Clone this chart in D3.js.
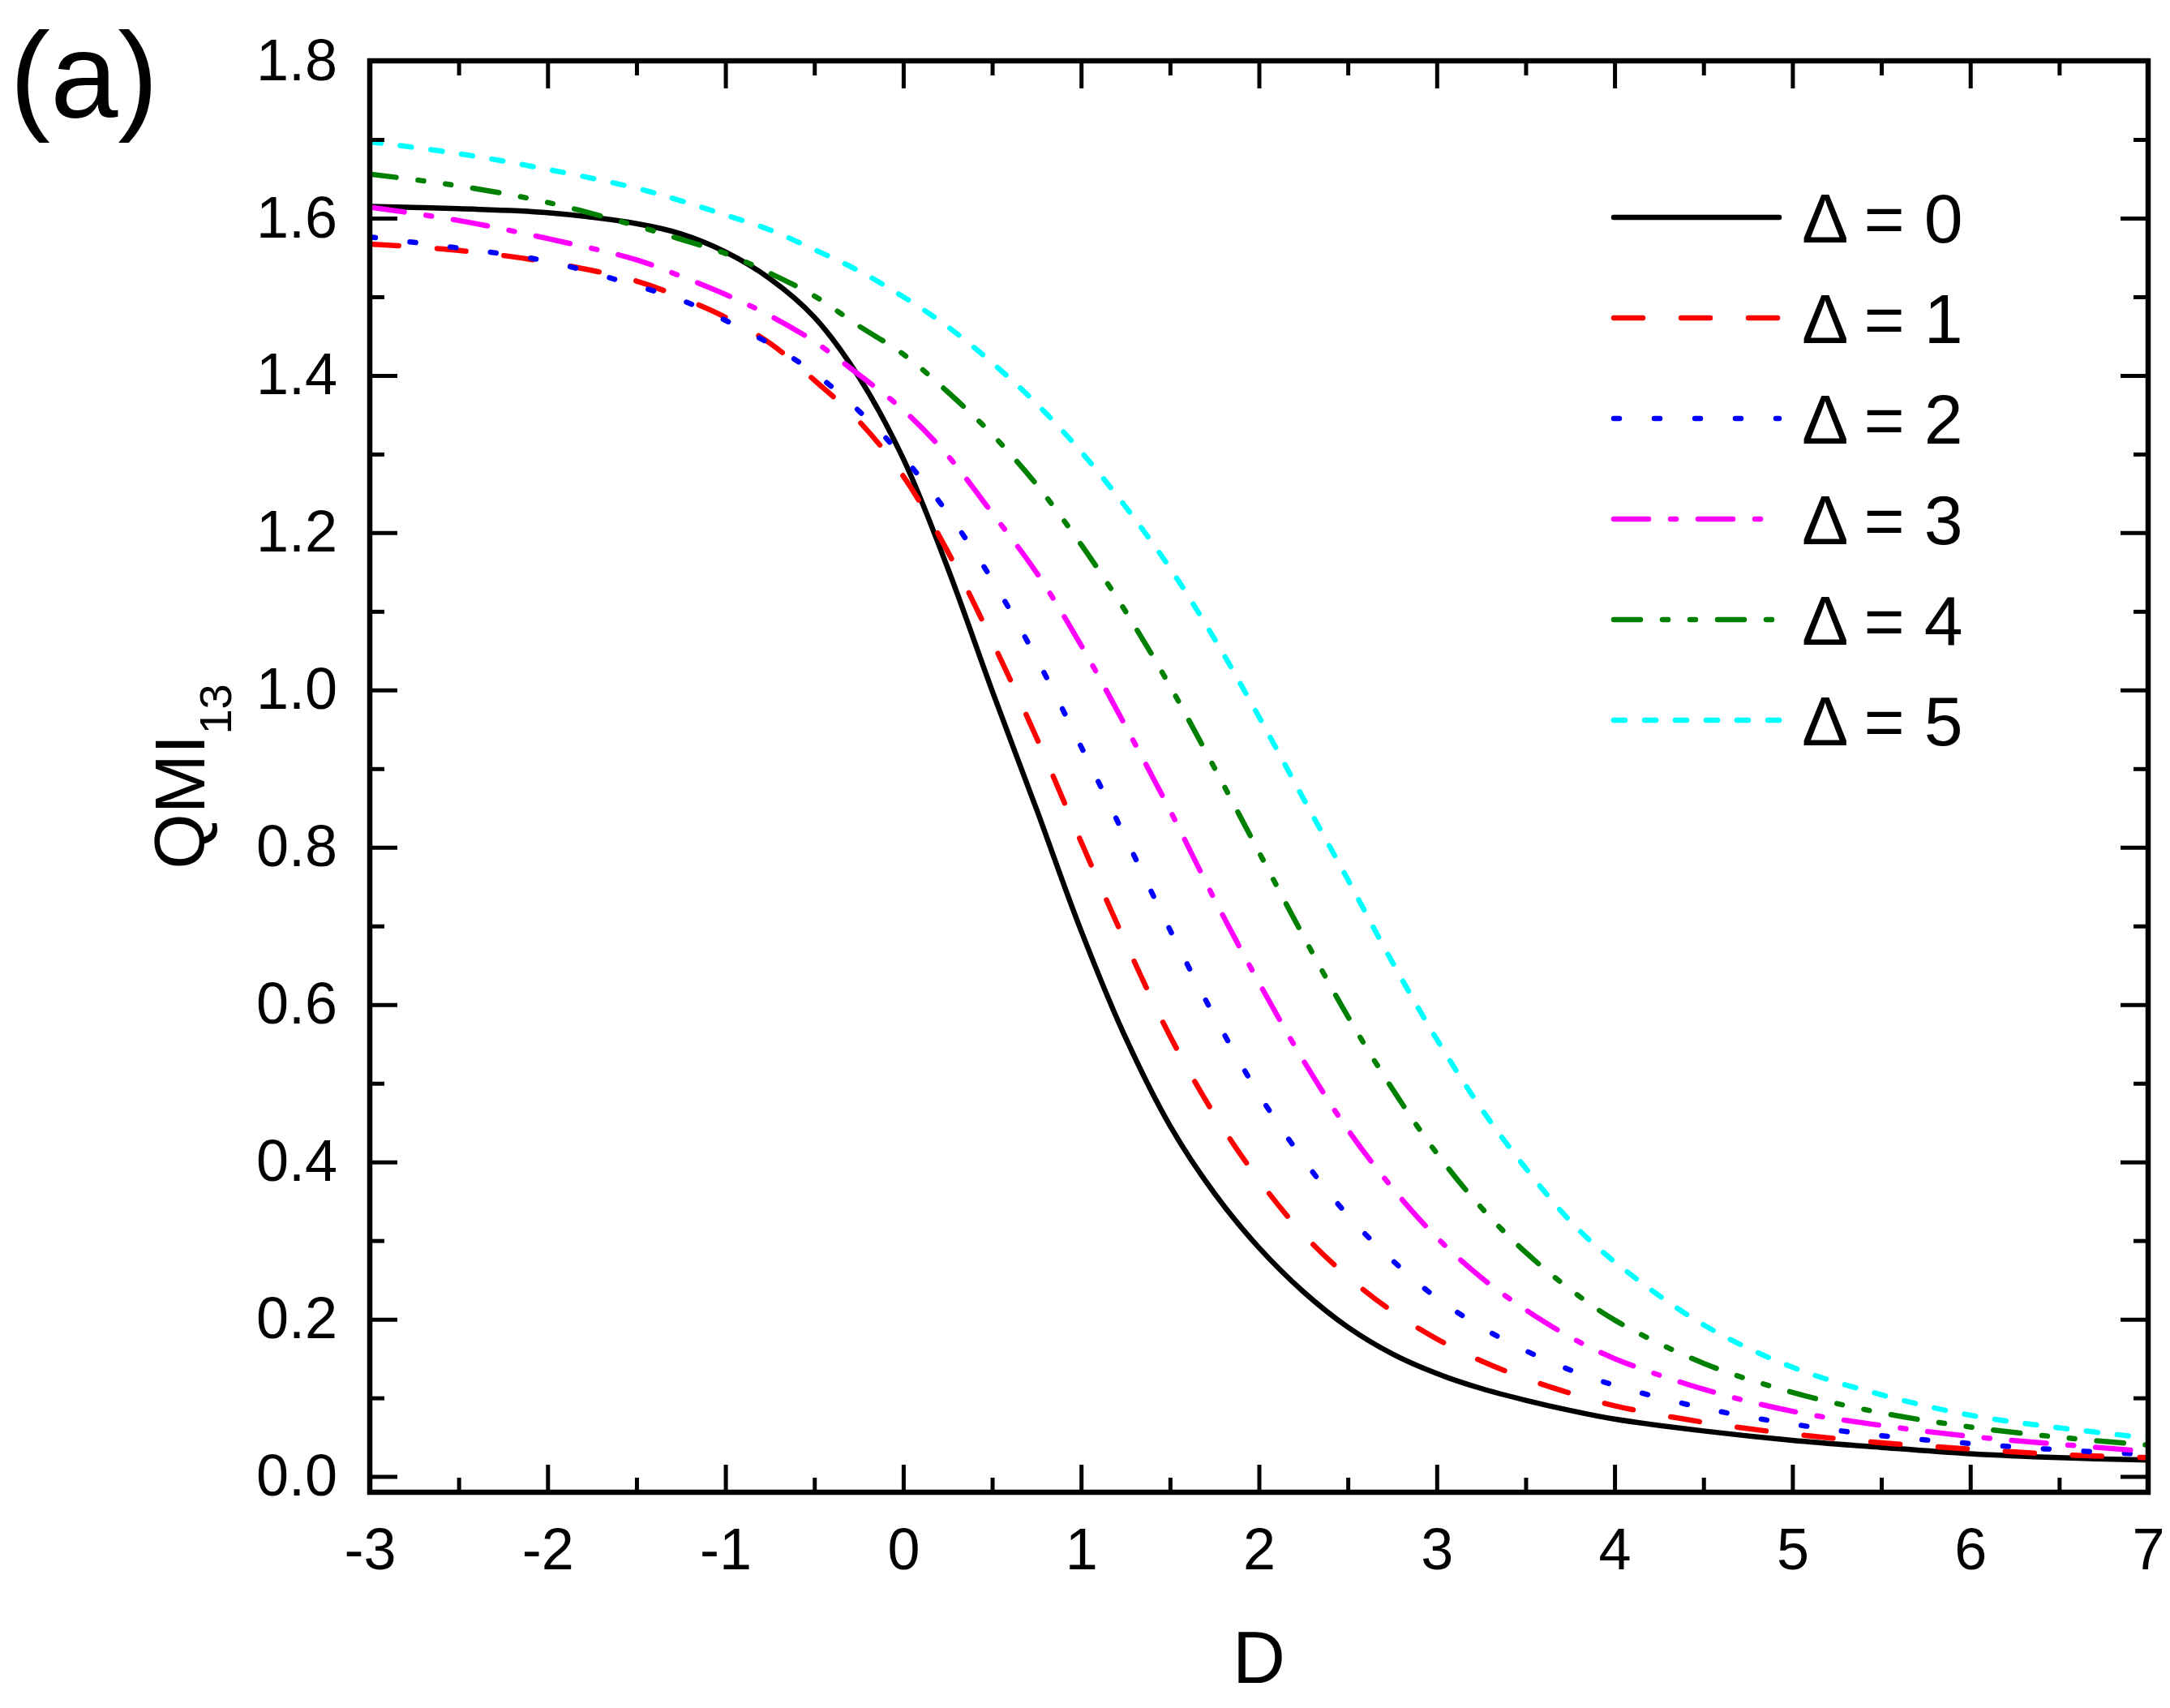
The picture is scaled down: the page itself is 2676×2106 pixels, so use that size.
<!DOCTYPE html>
<html>
<head>
<meta charset="utf-8">
<script src="https://cdn.jsdelivr.net/npm/d3@7"></script>
<style>
  html, body { margin: 0; padding: 0; background: #fff; }
  svg { display: block; }
  text { font-family: "Liberation Sans", Arial, Helvetica, sans-serif; fill: #000; }
</style>
</head>
<body>
<svg id="chart" width="2676" height="2106"></svg>
<script>
// ---- data ----
const D = [-3, -2.5, -2, -1.5, -1.25, -1, -0.75, -0.5, -0.25, 0, 0.25, 0.5, 0.75, 1, 1.25, 1.5, 1.75, 2, 2.25, 2.5, 2.75, 3, 3.25, 3.5, 3.75, 4, 4.5, 5, 5.5, 6, 6.5, 7];
const qmiDelta0 = [1.615, 1.612, 1.607, 1.593, 1.580, 1.557, 1.523, 1.474, 1.398, 1.294, 1.155, 0.999, 0.848, 0.694, 0.558, 0.446, 0.360, 0.291, 0.235, 0.190, 0.156, 0.131, 0.112, 0.097, 0.084, 0.073, 0.058, 0.046, 0.037, 0.029, 0.024, 0.021];
const qmiDelta1 = [1.567, 1.559, 1.544, 1.520, 1.499, 1.474, 1.441, 1.394, 1.342, 1.272, 1.176, 1.062, 0.939, 0.807, 0.679, 0.560, 0.460, 0.377, 0.308, 0.254, 0.210, 0.175, 0.147, 0.1246, 0.106, 0.090, 0.069, 0.054, 0.043, 0.035, 0.028, 0.024];
const qmiDelta2 = [1.576, 1.562, 1.545, 1.514, 1.496, 1.470, 1.440, 1.403, 1.355, 1.296, 1.225, 1.140, 1.040, 0.928, 0.812, 0.695, 0.585, 0.486, 0.403, 0.332, 0.275, 0.227, 0.190, 0.160, 0.1355, 0.116, 0.087, 0.0667, 0.052, 0.042, 0.034, 0.028];
const qmiDelta3 = [1.614, 1.597, 1.574, 1.547, 1.526, 1.503, 1.476, 1.443, 1.401, 1.356, 1.298, 1.225, 1.149, 1.057, 0.954, 0.847, 0.734, 0.628, 0.529, 0.441, 0.367, 0.304, 0.253, 0.212, 0.1774, 0.150, 0.111, 0.083, 0.065, 0.051, 0.041, 0.032];
const qmiDelta4 = [1.656, 1.641, 1.620, 1.590, 1.573, 1.555, 1.530, 1.501, 1.463, 1.427, 1.379, 1.325, 1.261, 1.185, 1.100, 1.005, 0.901, 0.794, 0.687, 0.585, 0.493, 0.411, 0.342, 0.285, 0.238, 0.199, 0.144, 0.107, 0.081, 0.063, 0.050, 0.040];
const qmiDelta5 = [1.697, 1.682, 1.662, 1.638, 1.622, 1.604, 1.585, 1.560, 1.533, 1.500, 1.462, 1.416, 1.364, 1.303, 1.233, 1.155, 1.065, 0.966, 0.862, 0.759, 0.654, 0.556, 0.468, 0.392, 0.325, 0.273, 0.193, 0.139, 0.104, 0.078, 0.062, 0.049];
const seriesLabels = ["Δ = 0", "Δ = 1", "Δ = 2", "Δ = 3", "Δ = 4", "Δ = 5"];
const xTickValues = [-3, -2, -1, 0, 1, 2, 3, 4, 5, 6, 7];
const xMinorTickValues = [-2.5, -1.5, -0.5, 0.5, 1.5, 2.5, 3.5, 4.5, 5.5, 6.5];
const yTickValues = [0.0, 0.2, 0.4, 0.6, 0.8, 1.0, 1.2, 1.4, 1.6, 1.8];
const yMinorTickValues = [0.1, 0.3, 0.5, 0.7, 0.9, 1.1, 1.3, 1.5, 1.7];
const seriesValues = [qmiDelta0, qmiDelta1, qmiDelta2, qmiDelta3, qmiDelta4, qmiDelta5];

// ---- styles ----
const styles = [
  { color: "#000000", dash: null },
  { color: "#ff0000", dash: "36,47" },
  { color: "#0000ff", dash: "7,43" },
  { color: "#ff00ff", dash: "43,27,7,27" },
  { color: "#008000", dash: "33,27,7,27,7,27" },
  { color: "#00ffff", dash: "14,24" }
];

const svg = d3.select("#chart");
svg.append("rect").attr("width", 2676).attr("height", 2106).attr("fill", "#fff");

const L = 456, R = 2649, T = 75, B = 1840;
const x = d3.scaleLinear().domain([-3, 7]).range([L, R]);
const y = d3.scaleLinear().domain([-0.02, 1.8]).range([B, T]);

svg.append("defs").append("clipPath").attr("id", "clip")
  .append("rect").attr("x", L).attr("y", T).attr("width", R - L).attr("height", B - T);

// curves
const line = d3.line()
  .x(d => x(d[0]))
  .y(d => y(d[1]))
  .curve(d3.curveCatmullRom.alpha(0.5));

const curves = svg.append("g").attr("clip-path", "url(#clip)");
seriesValues.forEach((vals, i) => {
  const pts = D.map((d, j) => [d, vals[j]]);
  curves.append("path")
    .attr("d", line(pts))
    .attr("fill", "none")
    .attr("stroke", styles[i].color)
    .attr("stroke-width", 6.5)
    .attr("stroke-linecap", styles[i].dash ? "round" : "butt")
    .attr("stroke-linejoin", "round")
    .attr("stroke-dasharray", styles[i].dash);
});

// axes
function styleAxis(g) {
  g.select(".domain").remove();
  g.selectAll(".tick line").attr("stroke", "#000").attr("stroke-width", 5);
  g.selectAll(".tick text").style("font-size", "72px").attr("fill", "#000");
}
const fmtY = d3.format(".1f");
const fmtX = d => d < 0 ? "-" + Math.abs(d) : String(d);

svg.append("g").attr("transform", `translate(0,${B})`)
  .call(d3.axisBottom(x).tickValues(xTickValues).tickFormat(fmtX).tickSizeInner(-34).tickSizeOuter(0).tickPadding(44))
  .call(styleAxis);
svg.append("g").attr("transform", `translate(0,${B})`)
  .call(d3.axisBottom(x).tickValues(xMinorTickValues).tickFormat("").tickSizeInner(-18).tickSizeOuter(0))
  .call(styleAxis);
svg.append("g").attr("transform", `translate(0,${T})`)
  .call(d3.axisTop(x).tickValues(xTickValues).tickFormat("").tickSizeInner(-34).tickSizeOuter(0))
  .call(styleAxis);
svg.append("g").attr("transform", `translate(0,${T})`)
  .call(d3.axisTop(x).tickValues(xMinorTickValues).tickFormat("").tickSizeInner(-18).tickSizeOuter(0))
  .call(styleAxis);

svg.append("g").attr("transform", `translate(${L},0)`)
  .call(d3.axisLeft(y).tickValues(yTickValues).tickFormat(fmtY).tickSizeInner(-34).tickSizeOuter(0).tickPadding(40))
  .call(styleAxis);
svg.append("g").attr("transform", `translate(${L},0)`)
  .call(d3.axisLeft(y).tickValues(yMinorTickValues).tickFormat("").tickSizeInner(-18).tickSizeOuter(0))
  .call(styleAxis);
svg.append("g").attr("transform", `translate(${R},0)`)
  .call(d3.axisRight(y).tickValues(yTickValues).tickFormat("").tickSizeInner(-34).tickSizeOuter(0))
  .call(styleAxis);
svg.append("g").attr("transform", `translate(${R},0)`)
  .call(d3.axisRight(y).tickValues(yMinorTickValues).tickFormat("").tickSizeInner(-18).tickSizeOuter(0))
  .call(styleAxis);

// frame
svg.append("rect")
  .attr("x", L).attr("y", T).attr("width", R - L).attr("height", B - T)
  .attr("fill", "none").attr("stroke", "#000").attr("stroke-width", 6.5);

// axis titles
svg.append("text")
  .attr("x", (L + R) / 2).attr("y", 2075)
  .attr("text-anchor", "middle")
  .style("font-size", "90px")
  .text("D");

const yt = svg.append("text")
  .attr("transform", `translate(252,${(T + B) / 2}) rotate(-90)`)
  .attr("text-anchor", "middle")
  .style("font-size", "88px");
yt.append("tspan").text("QMI");
yt.append("tspan").attr("dy", 33).style("font-size", "56px").text("13");

// panel label
svg.append("text")
  .attr("x", 12).attr("y", 145)
  .style("font-size", "150px")
  .text("(a)");

// legend
const legend = svg.append("g");
seriesLabels.forEach((lab, i) => {
  const ly = 268 + i * 124;
  legend.append("line")
    .attr("x1", 1990).attr("x2", 2194)
    .attr("y1", ly).attr("y2", ly)
    .attr("stroke", styles[i].color)
    .attr("stroke-width", 6.5)
    .attr("stroke-linecap", "round")
    .attr("stroke-dasharray", styles[i].dash);
  legend.append("text")
    .attr("x", 2222).attr("y", ly + 31)
    .style("font-size", "86px")
    .text(lab);
});
</script>
</body>
</html>
